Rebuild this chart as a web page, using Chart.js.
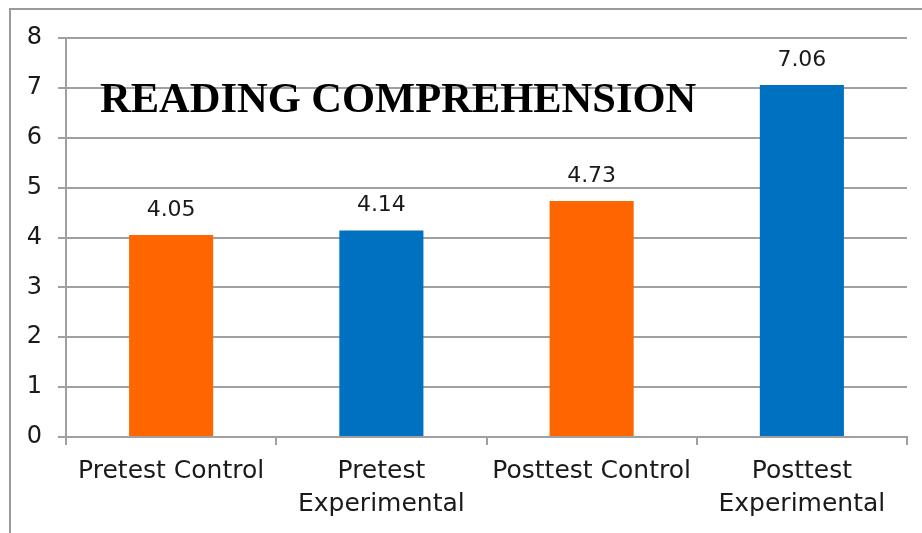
<!DOCTYPE html>
<html>
<head>
<meta charset="utf-8">
<script src="https://cdn.jsdelivr.net/npm/chart.js@4.4.2/dist/chart.umd.min.js"></script>
<style>
  html, body { margin: 0; padding: 0; background: #fff; overflow: hidden; }
  #wrap { position: relative; width: 922px; height: 533px; }
  #frame {
    position: absolute; left: 9px; top: 8px; width: 1000px; height: 600px;
    border-top: 2px solid #9a9a9a; border-left: 2px solid #9a9a9a;
  }
  canvas { position: absolute; left: 0; top: 0; }
</style>
</head>
<body>
<div id="wrap">
  <div id="frame"></div>
  <canvas id="chart" width="922" height="533"></canvas>
</div>
<script>
// chart data
const categories = [
  'Pretest Control',
  ['Pretest', 'Experimental'],
  'Posttest Control',
  ['Posttest', 'Experimental']
];
const scores = [4.05, 4.14, 4.73, 7.06];
const barColors = ['#FF6600', '#0070C0', '#FF6600', '#0070C0'];
const yTicks = [0, 1, 2, 3, 4, 5, 6, 7, 8];
const chartTitle = 'READING COMPREHENSION';

const labelFont = '"DejaVu Sans", sans-serif';
const textColor = '#1a1a1a';

// draws the value labels and the title inside the plot
const overlayPlugin = {
  id: 'overlay',
  afterDatasetsDraw(chart) {
    const ctx = chart.ctx;
    const meta = chart.getDatasetMeta(0);
    ctx.save();
    ctx.fillStyle = textColor;
    ctx.font = '22px ' + labelFont;
    ctx.textAlign = 'center';
    ctx.textBaseline = 'middle';
    meta.data.forEach((bar, i) => {
      ctx.fillText(scores[i].toFixed(2), bar.x, bar.y - 25);
    });

    const area = chart.chartArea;
    ctx.font = 'bold 42.5px "Liberation Serif", "Times New Roman", serif';
    ctx.textAlign = 'left';
    ctx.fillStyle = '#000';
    ctx.fillText(chartTitle, area.left + 34, chart.scales.y.getPixelForValue(7) + 13);
    ctx.restore();
  }
};

new Chart(document.getElementById('chart'), {
  type: 'bar',
  data: {
    labels: categories,
    datasets: [{
      data: scores,
      backgroundColor: barColors,
      barPercentage: 0.4,
      categoryPercentage: 1.0
    }]
  },
  options: {
    responsive: false,
    animation: false,
    layout: { padding: { top: 38, right: 15, left: 0, bottom: 0 } },
    plugins: {
      legend: { display: false },
      tooltip: { enabled: false }
    },
    scales: {
      x: {
        grid: {
          display: true,
          drawOnChartArea: false,
          drawTicks: true,
          tickLength: 8,
          color: '#a0a0a0',
          lineWidth: 2
        },
        border: { color: '#a0a0a0', width: 2 },
        ticks: {
          color: textColor,
          font: { family: labelFont, size: 25, lineHeight: 1.32 },
          padding: 10,
          maxRotation: 0
        },
        afterFit(scale) { scale.height = 96; }
      },
      y: {
        min: 0,
        max: 8,
        afterBuildTicks(scale) {
          scale.ticks = yTicks.map(v => ({ value: v }));
        },
        grid: {
          color: '#a0a0a0',
          lineWidth: 2,
          tickLength: 8
        },
        border: { color: '#a0a0a0', width: 2 },
        ticks: {
          color: textColor,
          font: { family: labelFont, size: 24 },
          padding: 16
        },
        afterFit(scale) { scale.width = 66; }
      }
    }
  },
  plugins: [overlayPlugin]
});
</script>
</body>
</html>
